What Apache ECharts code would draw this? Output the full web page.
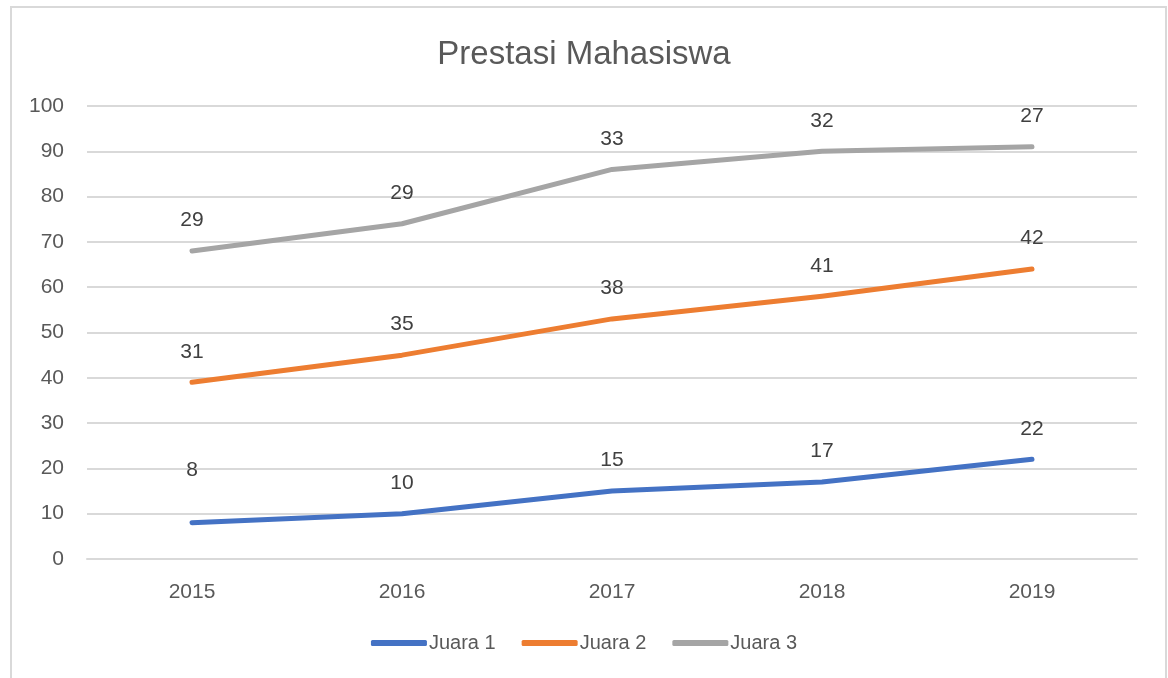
<!DOCTYPE html>
<html>
<head>
<meta charset="utf-8">
<script src="https://cdn.jsdelivr.net/npm/echarts@6/dist/echarts.min.js"></script>
<style>
  html, body { margin: 0; padding: 0; background: #fff; }
  #main { width: 1168px; height: 678px; }
</style>
</head>
<body>
<div id="main"></div>
<script>
// data
const years = ['2015', '2016', '2017', '2018', '2019'];
const juara1 = [8, 10, 15, 17, 22];
const juara2 = [31, 35, 38, 41, 42];
const juara3 = [29, 29, 33, 32, 27];

const fontFamily = '"Liberation Sans", "Open Sans", sans-serif';

function makeSeries(name, values, color) {
  return {
    name: name,
    type: 'line',
    stack: 'total',
    data: values,
    symbol: 'circle',
    symbolSize: 0,
    showSymbol: true,
    lineStyle: { width: 5, color: color, cap: 'round', join: 'round' },
    itemStyle: { color: color },
    label: {
      show: true,
      position: 'top',
      distance: 20,
      color: '#404040',
      fontSize: 21,
      fontFamily: fontFamily
    }
  };
}

const s1 = makeSeries('Juara 1', juara1, '#4472C4');
// first label sits higher in the original
s1.data = juara1.map((v, i) => i === 0 ? { value: v, label: { offset: [0, -22] } } : v);

const chart = echarts.init(document.getElementById('main'));
chart.setOption({
  animation: false,
  title: {
    text: 'Prestasi Mahasiswa',
    left: 'center',
    top: 33,
    textStyle: { color: '#595959', fontSize: 33, fontWeight: 'normal', fontFamily: fontFamily }
  },
  graphic: [{
    type: 'rect',
    shape: { x: 11, y: 7, width: 1155, height: 700 },
    style: { fill: 'none', stroke: '#d9d9d9', lineWidth: 2 },
    silent: true
  }],
  legend: {
    bottom: 20,
    left: 'center',
    icon: 'roundRect',
    itemWidth: 56,
    itemHeight: 6,
    itemGap: 26,
    textStyle: { color: '#595959', fontSize: 20, fontFamily: fontFamily, padding: [0, 0, 0, -3] },
    data: ['Juara 1', 'Juara 2', 'Juara 3']
  },
  grid: { left: 87, right: 31, top: 106, bottom: 119 },
  xAxis: {
    type: 'category',
    data: years,
    boundaryGap: true,
    axisLine: { lineStyle: { color: '#d9d9d9', width: 2 } },
    axisTick: { show: false },
    axisLabel: { color: '#595959', fontSize: 21, fontFamily: fontFamily, margin: 23 }
  },
  yAxis: {
    type: 'value',
    min: 0,
    max: 100,
    interval: 10,
    axisLine: { show: false },
    axisTick: { show: false },
    axisLabel: { color: '#595959', fontSize: 21, fontFamily: fontFamily, margin: 23 },
    splitLine: { lineStyle: { color: '#d9d9d9', width: 2 } }
  },
  series: [
    s1,
    makeSeries('Juara 2', juara2, '#ED7D31'),
    makeSeries('Juara 3', juara3, '#A5A5A5')
  ]
});
</script>
</body>
</html>
